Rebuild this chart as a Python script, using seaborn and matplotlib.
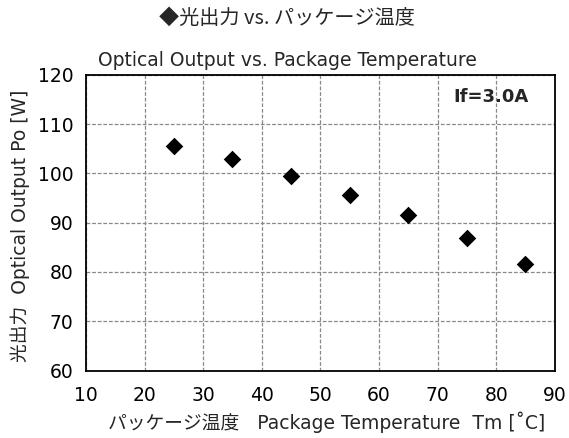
import pandas as pd
import seaborn as sns
import matplotlib.pyplot as plt

sns.set_style("white")
plt.rcParams['font.family'] = ['DejaVu Sans', 'Noto Sans CJK JP']

temperature = [25, 35, 45, 55, 65, 75, 85]
output_w = [105.6, 102.9, 99.4, 95.6, 91.5, 86.9, 81.6]

df = pd.DataFrame({'temp': temperature, 'po': output_w})

fig = plt.figure(figsize=(5.69, 4.38), dpi=100)
ax = fig.add_axes([0.151, 0.154, 0.824, 0.675])

sns.scatterplot(x='temp', y='po', data=df, ax=ax, marker='D', color='black',
                s=80, edgecolor='black', linewidth=0, zorder=3)

ax.set_xlim(10, 90)
ax.set_ylim(60, 120)
ax.set_xticks(range(10, 91, 10))
ax.set_yticks(range(60, 121, 10))
ax.grid(True, color='#888888', linestyle=(0, (3, 1.5)), linewidth=0.9)
for sp in ax.spines.values():
    sp.set_color('black')
    sp.set_linewidth(1.3)
ax.tick_params(axis='x', direction='inout', length=6, width=1, labelsize=13.5, pad=8)
ax.tick_params(axis='y', direction='out', length=4, width=1, labelsize=13.5, pad=5)
ax.tick_params(colors='black')
ax.set_xlabel('')
ax.set_ylabel('')

ax.text(0.945, 0.925, 'If=3.0A', transform=ax.transAxes, ha='right', va='center',
        fontsize=13, fontweight='bold')

# titles and axis labels placed in figure pixels
W, H = 569, 438
fig.text(287 / W, 1 - 18 / H, '◆光出力 vs. パッケージ温度', ha='center', va='center', fontsize=14.5,
         family=['Noto Sans CJK JP', 'DejaVu Sans'])
fig.text(287 / W, 1 - 60 / H, 'Optical Output vs. Package Temperature', ha='center', va='center', fontsize=13.5)
fig.text(327 / W, 1 - 422 / H, 'パッケージ温度   Package Temperature  Tm [˚C]', ha='center', va='center',
         fontsize=13.5)
fig.text(20 / W, 1 - 226 / H, '光出力  Optical Output Po [W]', ha='center', va='center', fontsize=13.5,
         rotation=90)

plt.savefig('out.png', dpi=100)
